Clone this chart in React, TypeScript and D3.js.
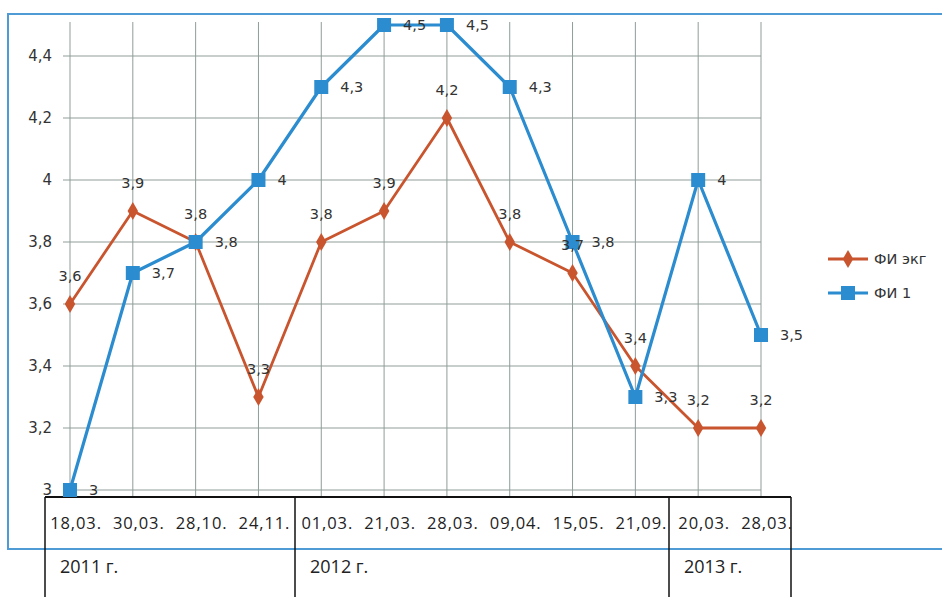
import React from "react";
import * as d3 from "d3";

const categories = ["18,03.", "30,03.", "28,10.", "24,11.", "01,03.", "21,03.", "28,03.", "09,04.", "15,05.", "21,09.", "20,03.", "28,03."];
const seriesEkg = [3.6, 3.9, 3.8, 3.3, 3.8, 3.9, 4.2, 3.8, 3.7, 3.4, 3.2, 3.2];
const seriesFi1 = [3, 3.7, 3.8, 4, 4.3, 4.5, 4.5, 4.3, 3.8, 3.3, 4, 3.5];
const yTicks = [3, 3.2, 3.4, 3.6, 3.8, 4, 4.2, 4.4];
const years = [
  { label: "2011 г.", from: 0, to: 3 },
  { label: "2012 г.", from: 4, to: 9 },
  { label: "2013 г.", from: 10, to: 11 },
];
const seriesNames = ["ФИ экг", "ФИ 1"];

const ORANGE = "#c9552f";
const BLUE = "#2b8ccf";
const GRID = "#8f9d99";
const fmt = (v: number) => String(v).replace(".", ",");

export default function App() {
  const idx = categories.map((_, i) => String(i));
  const x = d3.scalePoint<string>().domain(idx).range([70, 761]);
  const y = d3.scaleLinear().domain([3, 4.5]).range([490, 25]);
  const line = d3
    .line<number>()
    .x((_, i) => x(String(i)) as number)
    .y((d) => y(d));
  const diamond = d3.symbol().type(d3.symbolDiamond).size(95)() as string;
  const gridLeft = 63;
  const gridRight = 761;
  const tableTop = 497;
  const tableBounds = [45, 295, 669, 791];
  const font = "'DejaVu Sans', Verdana, sans-serif";
  const tFont = "'Open Sans', 'Noto Sans', sans-serif";

  return (
    <svg
      width={942}
      height={597}
      style={{ position: "absolute", left: 0, top: 0, background: "#fff" }}
    >
      <rect x={0} y={0} width={942} height={597} fill="#fff" />
      {/* chart border */}
      <rect x={8} y={14} width={950} height={535} fill="none" stroke="#4f9bd6" strokeWidth={2} />
      {/* horizontal grid */}
      {yTicks.map((t) => (
        <line key={"h" + t} x1={gridLeft} x2={gridRight} y1={y(t)} y2={y(t)} stroke={GRID} strokeWidth={1} />
      ))}
      {/* vertical grid */}
      {idx.map((k) => (
        <line key={"v" + k} x1={x(k)} x2={x(k)} y1={22} y2={tableTop} stroke={GRID} strokeWidth={1} />
      ))}
      {/* y tick labels */}
      {yTicks.map((t) => (
        <text key={"yl" + t} x={52} y={y(t)} textAnchor="end" dominantBaseline="central" fontFamily={font} fontSize={15} fill="#333">
          {fmt(t)}
        </text>
      ))}
      {/* table */}
      <line x1={tableBounds[0]} x2={tableBounds[3]} y1={tableTop} y2={tableTop} stroke="#111" strokeWidth={1.8} />
      {tableBounds.map((b) => (
        <line key={"tb" + b} x1={b} x2={b} y1={tableTop} y2={597} stroke="#111" strokeWidth={1.5} />
      ))}
      {categories.map((c, i) => (
        <text key={"c" + i} x={(x(String(i)) as number) + 6} y={522} textAnchor="middle" dominantBaseline="central" fontFamily={tFont} fontSize={16.5} letterSpacing={0.9} fill="#222">
          {c}
        </text>
      ))}
      {years.map((yr, i) => (
        <text key={"y" + i} x={tableBounds[i] + 15} y={566} dominantBaseline="central" fontFamily={tFont} fontSize={18} fill="#222">
          {yr.label}
        </text>
      ))}
      {/* series */}
      <path d={line(seriesEkg) as string} fill="none" stroke={ORANGE} strokeWidth={2.8} strokeLinejoin="round" />
      <path d={line(seriesFi1) as string} fill="none" stroke={BLUE} strokeWidth={3.2} strokeLinejoin="round" />
      {seriesEkg.map((v, i) => (
        <path key={"md" + i} d={diamond} transform={`translate(${x(String(i))},${y(v)})`} fill={ORANGE} />
      ))}
      {seriesFi1.map((v, i) => (
        <rect key={"ms" + i} x={(x(String(i)) as number) - 7} y={y(v) - 7} width={14} height={14} fill={BLUE} />
      ))}
      {seriesEkg.map((v, i) => (
        <text key={"le" + i} x={x(String(i))} y={y(v) - 28} textAnchor="middle" dominantBaseline="central" fontFamily={font} fontSize={14.5} fill="#333">
          {fmt(v)}
        </text>
      ))}
      {seriesFi1.map((v, i) => (
        <text key={"lb" + i} x={(x(String(i)) as number) + 19} y={y(v)} dominantBaseline="central" fontFamily={font} fontSize={14.5} fill="#333">
          {fmt(v)}
        </text>
      ))}
      {/* legend */}
      <g>
        <line x1={828} x2={868} y1={259} y2={259} stroke={ORANGE} strokeWidth={2.8} />
        <path d={diamond} transform="translate(848,259)" fill={ORANGE} />
        <text x={874} y={259} dominantBaseline="central" fontFamily={font} fontSize={14.5} fill="#333">
          {seriesNames[0]}
        </text>
        <line x1={828} x2={868} y1={293} y2={293} stroke={BLUE} strokeWidth={3.2} />
        <rect x={841} y={286} width={14} height={14} fill={BLUE} />
        <text x={874} y={293} dominantBaseline="central" fontFamily={font} fontSize={14.5} fill="#333">
          {seriesNames[1]}
        </text>
      </g>
    </svg>
  );
}
